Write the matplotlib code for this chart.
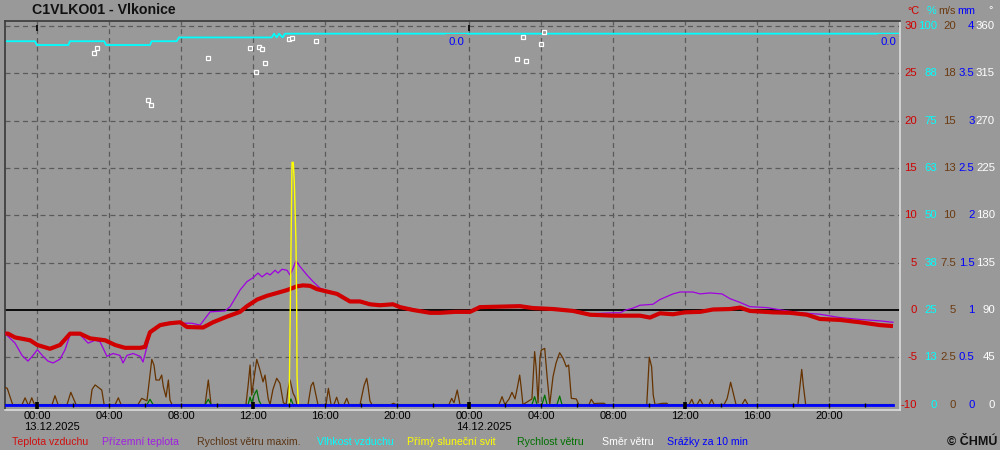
import matplotlib
matplotlib.use('Agg')
import matplotlib.pyplot as plt
import matplotlib.transforms as mtransforms

plt.rcParams['font.family'] = ['Liberation Sans', 'DejaVu Sans']

# time axis: hours after 13.12.2025 00:00
# Teplota vzduchu (°C)
temp_t = [-1.78, -1.63, -1.24, -0.41, 0.0, 0.7, 1.26, 1.82, 2.37, 2.93, 3.76, 4.32, 4.87,
          5.71, 5.98, 6.26, 6.82, 7.37, 7.93, 8.32, 9.21, 9.76, 10.54, 11.26, 11.65, 12.21,
          12.76, 13.32, 13.87, 14.43, 14.76, 15.15, 15.54, 16.09, 16.65, 17.37, 17.93, 18.48,
          19.04, 19.76, 20.15, 20.87, 21.82, 22.37, 23.21, 24.04, 24.59, 25.71, 26.82, 27.54,
          28.65, 29.76, 30.71, 31.98, 33.48, 34.04, 34.59, 35.32, 35.98, 36.82, 37.54, 38.48,
          39.04, 39.59, 40.87, 41.82, 42.76, 43.48, 44.59, 45.71, 46.82, 47.54]
temp_v = [-2.5, -2.5, -2.9, -3.2, -3.7, -4.1, -3.7, -2.5, -2.5, -3.0, -3.2, -3.7, -4.0,
          -4.0, -3.9, -2.35, -1.6, -1.4, -1.3, -1.8, -1.85, -1.3, -0.7, -0.2, 0.4, 1.1,
          1.5, 1.8, 2.1, 2.5, 2.6, 2.55, 2.2, 1.95, 1.7, 0.9, 0.9, 0.6,
          0.5, 0.6, 0.3, 0.0, -0.3, -0.3, -0.2, -0.2, 0.3, 0.35, 0.4, 0.2,
          0.1, -0.1, -0.5, -0.6, -0.6, -0.8, -0.35, -0.45, -0.25, -0.2, 0.05, 0.1,
          0.25, -0.1, -0.25, -0.3, -0.5, -0.95, -1.05, -1.3, -1.6, -1.7]

# Přízemní teplota (°C)
ground_t = [-1.78, -1.24, -0.85, -0.52, -0.24, 0.0, 0.32, 0.59, 0.87, 1.26, 1.54, 1.82, 2.37,
            2.82, 3.21, 3.48, 3.87, 4.21, 4.59, 4.76, 4.98, 5.32, 5.71, 5.87, 6.09, 6.26,
            6.82, 7.37, 7.93, 8.59, 9.04, 9.6, 10.43, 10.71, 11.26, 11.65, 11.98, 12.26,
            12.48, 12.76, 12.93, 13.21, 13.37, 13.59, 13.87, 14.04, 14.21, 14.37, 14.59,
            14.98, 15.32, 15.71, 16.09, 16.65, 17.37, 17.93, 18.48, 19.04, 19.76, 20.15,
            20.87, 21.82, 22.37, 23.21, 24.04, 24.59, 25.71, 26.82, 27.54, 28.65, 29.76,
            30.71, 31.98, 32.37, 32.7, 33.1, 33.48, 34.2, 34.59, 35.32, 35.71, 36.43, 36.82,
            37.37, 38.04, 38.48, 39.04, 39.59, 40.54, 41.65, 42.37, 43.48, 44.59, 45.71,
            46.82, 47.54]
ground_v = [-2.5, -3.5, -4.8, -5.4, -4.8, -4.2, -4.9, -5.4, -5.6, -5.2, -4.2, -2.6, -2.6,
            -3.5, -3.2, -3.35, -4.9, -4.6, -4.8, -5.6, -4.8, -4.6, -4.9, -5.5, -3.9, -2.45,
            -1.5, -1.3, -1.4, -1.4, -1.6, -0.2, -0.1, 0.35, 2.1, 3.0, 3.4, 3.9,
            3.5, 3.9, 3.7, 4.2, 3.9, 4.3, 4.2, 3.7, 4.4, 5.2, 4.6,
            3.7, 3.0, 2.3, 2.05, 1.8, 1.0, 1.0, 0.7, 0.6, 0.7, 0.4,
            0.1, -0.2, -0.2, -0.1, -0.1, 0.4, 0.45, 0.5, 0.3, 0.2, 0.0,
            -0.4, -0.3, -0.3, 0.0, 0.2, 0.5, 0.6, 1.1, 1.7, 1.9, 1.9, 1.7,
            1.8, 1.7, 1.2, 0.8, 0.35, 0.25, -0.1, -0.3, -0.45, -0.8, -1.0,
            -1.15, -1.3]

# Vlhkost vzduchu (%)
rh_t = [-1.78, -0.13, -0.03, 1.72, 1.81, 3.71, 3.82, 6.26, 6.35, 7.74, 7.87, 13.02,
        13.15, 13.3, 13.43, 13.63, 13.76, 47.93]
rh_v = [96, 96, 95, 95, 96, 96, 95, 95, 96, 96, 97, 97, 98, 97, 98, 97, 98, 98]

# Rychlost větru maxim. (m/s)
gust_t = [-1.78, -1.67, -1.52, -1.37, -0.85, -0.68, -0.52, -0.46, -0.31, -0.16, 0.82, 0.98,
          1.15, 1.65, 1.86, 2.15, 2.93, 3.04, 3.21, 3.39, 3.58, 3.71, 4.32, 4.5, 4.65, 5.59,
          5.8, 6.09, 6.36, 6.48, 6.59, 6.78, 6.91, 7.0, 7.15, 7.28, 7.37, 7.48, 9.32, 9.5,
          9.65, 11.59, 11.71, 11.82, 11.91, 12.04, 12.19, 12.37, 12.54, 12.65, 12.83, 12.93,
          13.09, 13.3, 13.48, 13.67, 13.82, 13.93, 14.04, 14.21, 14.32, 14.43, 15.04, 15.21,
          15.33, 15.52, 15.59, 16.04, 16.17, 16.32, 16.48, 16.63, 16.76, 17.04, 17.19, 17.32,
          17.93, 18.15, 18.3, 18.37, 18.48, 18.59, 19.65, 19.78, 19.93, 22.87, 23.02, 23.15,
          23.33, 23.48, 25.65, 25.82, 25.98, 26.21, 26.37, 26.54, 26.65, 26.8, 26.87, 26.98,
          27.48, 27.63, 27.71, 27.82, 27.93, 28.0, 28.19, 28.32, 28.47, 28.65, 28.82, 29.02,
          29.21, 29.39, 29.52, 29.67, 29.94, 30.09, 30.65, 30.78, 30.93, 31.15, 31.48, 31.59,
          33.86, 34.0, 34.13, 34.22, 34.32, 34.76, 34.87, 34.98, 35.04, 36.21, 36.36, 36.48,
          36.65, 36.82, 36.98, 37.32, 37.47, 37.6, 38.15, 38.32, 38.39, 38.52, 38.67, 38.82,
          39.15, 39.32, 39.48, 42.26, 42.47, 42.56, 42.69, 47.54]
gust_v = [0.9, 0.86, 0.42, 0.0, 0.0, 0.36, 0.0, 0.0, 0.36, 0.0, 0.0, 0.47,
          0.0, 0.0, 0.65, 0.0, 0.0, 0.8, 1.04, 0.91, 0.77, 0.0, 0.0, 0.36, 0.0, 0.0,
          0.33, 0.2, 2.39, 2.09, 1.3, 1.3, 1.56, 0.95, 0.4, 1.3, 0.24, 0.0, 0.0, 1.3,
          0.0, 0.0, 1.0, 2.09, 0.5, 1.4, 2.39, 1.83, 1.2, 1.56, 0.3, 0.0,
          0.8, 1.39, 1.12, 0.1, 0.0, 0.8, 1.3, 0.6, 0.4, 0.0, 0.0, 1.0,
          1.18, 0.33, 0.0, 0.0, 0.86, 0.0, 0.0, 0.39, 0.0, 0.0, 0.33, 0.0,
          0.0, 1.0, 1.39, 1.0, 0.2, 0.0, 0.0, 0.07, 0.0, 0.0, 0.33, 0.1,
          0.77, 0.0, 0.0, 0.42, 0.0, 0.3, 0.65, 0.3, 0.8, 1.56, 1.0, 0.0,
          0.3, 2.8, 2.0, 0.1, 2.5, 2.88, 2.97, 1.5, 0.0, 1.47, 2.2, 2.74,
          2.45, 2.0, 2.09, 0.33, 0.3, 0.0, 0.0, 0.28, 0.05, 0.07, 0.07, 0.0,
          0.0, 2.5, 2.0, 0.5, 0.0, 0.07, 0.07, 0.07, 0.0, 0.0, 0.28, 0.0,
          0.0, 0.28, 0.0, 0.0, 0.28, 0.0, 0.0, 0.3, 0.59, 1.18, 0.59, 0.0,
          0.0, 0.28, 0.0, 0.0, 1.86, 1.0, 0.0, 0.0]

# Rychlost větru (m/s)
wind_t = [-1.78, 6.09, 6.26, 6.43, 9.32, 9.5, 9.65, 11.71, 11.82, 11.91, 12.04, 12.19, 12.32,
          12.43, 13.98, 14.09, 14.21, 27.48, 27.63, 27.76, 28.04, 28.19, 28.32, 28.87, 29.02,
          29.15, 47.54]
wind_v = [0.0, 0.0, 0.28, 0.0, 0.0, 0.28, 0.0, 0.0, 0.4, 0.1, 0.5, 0.77, 0.2,
          0.0, 0.0, 0.3, 0.0, 0.0, 0.42, 0.0, 0.0, 0.5, 0.0, 0.0, 0.45,
          0.0, 0.0]

# Přímý sluneční svit (min / 10 min)
sun_t = [13.99, 14.15, 14.22, 14.28, 14.37, 14.41, 14.43, 14.5]
sun_v = [0.0, 6.4, 6.4, 5.85, 4.26, 2.5, 0.74, 0.0]

# Směr větru (°)
dir_t = [3.17, 3.33, 6.17, 6.33, 9.5, 11.83, 12.17, 12.33, 12.5, 12.67, 14.0, 14.17, 15.5,
         26.67, 27.0, 27.17, 28.0, 28.17]
dir_v = [334, 339, 290, 285, 330, 339, 316, 340, 338, 325, 348, 349, 346,
         329, 350, 327, 343, 354]

# Srážky za 10 min (mm)
rain_t = [-1.78, 47.54]
rain_v = [0.0, 0.0]
rain_day_labels = ['0.0', '0.0']
rain_day_end = [24, 48]

# right-hand scales
temp_ticks = [30, 25, 20, 15, 10, 5, 0, -5, -10]
rh_labels = ['100', '88', '75', '63', '50', '38', '25', '13', '0']
ws_labels = ['20', '18', '15', '13', '10', '7.5', '5', '2.5', '0']
mm_labels = ['4', '3.5', '3', '2.5', '2', '1.5', '1', '0.5', '0']
dir_labels = ['360', '315', '270', '225', '180', '135', '90', '45', '0']

hour_ticks = list(range(0, 48, 4))
hour_labels = ['%02d:00' % (h % 24) for h in hour_ticks]
day_labels = ['13.12.2025', '14.12.2025']

legend = [('Teplota vzduchu', '#d01010', 12), ('Přízemní teplota', '#a020e0', 102),
          ('Rychlost větru maxim.', '#5a3414', 197), ('Vlhkost vzduchu', '#00ffff', 317),
          ('Přímý sluneční svit', '#ffff00', 407), ('Rychlost větru', '#007000', 517),
          ('Směr větru', '#ffffff', 602), ('Srážky za 10 min', '#0000ff', 667)]

BG = '#999999'
RED = '#d00000'
PURPLE = '#a000e0'
BROWN = '#663300'
CYAN = '#00ffff'


# map the other quantities onto the temperature scale
def from_rh(v):
    return [-10 + 0.4 * x for x in v]


def from_ws(v):
    return [-10 + 2 * x for x in v]


def from_mm(v):
    return [-10 + 10 * x for x in v]


def from_dir(v):
    return [-10 + x / 9 for x in v]


def from_sun(v):
    return [-10 + 4 * x for x in v]


fig = plt.figure(figsize=(10, 4.5), dpi=100, facecolor=BG)
ax = fig.add_axes([5.3 / 1000, 40 / 450, 894.7 / 1000, 389.3 / 450])
ax.set_facecolor(BG)
ax.set_xlim(-1.78, 47.93)
ax.set_ylim(-10.57, 30.57)
ax.set_xticks([])
ax.set_yticks([])
for side, col in [('top', '#404040'), ('left', '#404040'), ('right', '#d8d8d8'), ('bottom', '#d8d8d8')]:
    ax.spines[side].set_color(col)
    ax.spines[side].set_linewidth(1.3)

# grid
for h in hour_ticks:
    ax.axvline(h, color='#5a5a5a', lw=0.9, ls=(0, (4, 3)), zorder=1)
for v in temp_ticks[:-1]:
    if v == 0:
        ax.axhline(v, color='black', lw=1.3, zorder=1.5)
    else:
        ax.axhline(v, color='#5a5a5a', lw=0.9, ls=(0, (4, 3)), zorder=1)

# series
ax.plot(rh_t, from_rh(rh_v), color=CYAN, lw=1.3, zorder=2)
ax.plot(ground_t, ground_v, color=PURPLE, lw=0.9, zorder=3)
ax.plot(temp_t, temp_v, color=RED, lw=3.0, solid_capstyle='butt', zorder=4)
ax.plot(gust_t, from_ws(gust_v), color=BROWN, lw=0.9, zorder=5)
ax.plot(wind_t, from_ws(wind_v), color='#007000', lw=0.9, zorder=6)
ax.plot(sun_t, from_sun(sun_v), color='#ffff00', lw=1.0, zorder=7)
ax.plot(rain_t, from_mm(rain_v), color='#0000ff', lw=2.0, zorder=8)
ax.plot(dir_t, from_dir(dir_v), ls='none', marker='s', ms=3.2, mfc=BG, mec='white',
        mew=0.9, zorder=9)

for lab, x in zip(rain_day_labels, rain_day_end):
    ax.annotate(lab, (x, 28.35), xytext=(-5, 0), textcoords='offset pixels', ha='right',
                va='center', color='#0000ff', fontsize=8.2, zorder=10, annotation_clip=False,
                bbox=dict(boxstyle='square,pad=0.2', fc=BG, ec='none'))

# tick marks at the bottom
small = [h for h in range(0, 48, 2) if h % 12 != 0]
ax.vlines(small, -10.25, -9.8, color='black', lw=1.0, zorder=9)
ax.vlines([0, 12, 24, 36], -10.5, -9.7, color='black', lw=2.6, zorder=9)
ax.vlines([0, 24], 29.5, 30.15, color='black', lw=1.2, zorder=9)

# x labels
trans_x = mtransforms.blended_transform_factory(ax.transData, fig.transFigure)
for h, lab in zip(hour_ticks, hour_labels):
    ax.text(h, 1 - 416 / 450, lab, transform=trans_x, ha='center', va='center',
            fontsize=8, color='black')
for h, lab in zip([0, 24], day_labels):
    ax.annotate(lab, (h, 1 - 427.5 / 450), xycoords=trans_x, xytext=(-13, 0),
                textcoords='offset pixels', ha='left', va='center', fontsize=8,
                color='black')

# right-hand labels
trans_y = mtransforms.blended_transform_factory(fig.transFigure, ax.transData)
cols = [(temp_ticks, 917, RED), (rh_labels, 937, CYAN), (ws_labels, 956, '#6b3a10'),
        (mm_labels, 974.5, '#0000ff'), (dir_labels, 995, 'white')]
for labels, xr, col in cols:
    for v, lab in zip(temp_ticks, labels):
        ax.text(xr / 1000, v, str(lab), transform=trans_y, ha='right', va='center',
                fontsize=8.2, color=col)
for lab, xr, col in [('°C', 919, RED), ('%', 936, CYAN), ('m/s', 956, '#6b3a10'),
                     ('mm', 975, '#0000ff'), ('°', 993, 'white')]:
    fig.text(xr / 1000, 1 - 10.5 / 450, lab, ha='right', va='center', fontsize=7.8, color=col)

fig.text(32 / 1000, 1 - 10.5 / 450, 'C1VLKO01 - Vlkonice', ha='left', va='center',
         fontsize=10.2, fontweight='bold', color='#111111')

for lab, col, x in legend:
    fig.text(x / 1000, 1 - 442 / 450, lab, ha='left', va='center', fontsize=7.6, color=col)
fig.text(997 / 1000, 1 - 441.5 / 450, '© ČHMÚ', ha='right', va='center', fontsize=9,
         fontweight='bold', color='#111111')

fig.savefig('out.png', dpi=100, facecolor=BG)
